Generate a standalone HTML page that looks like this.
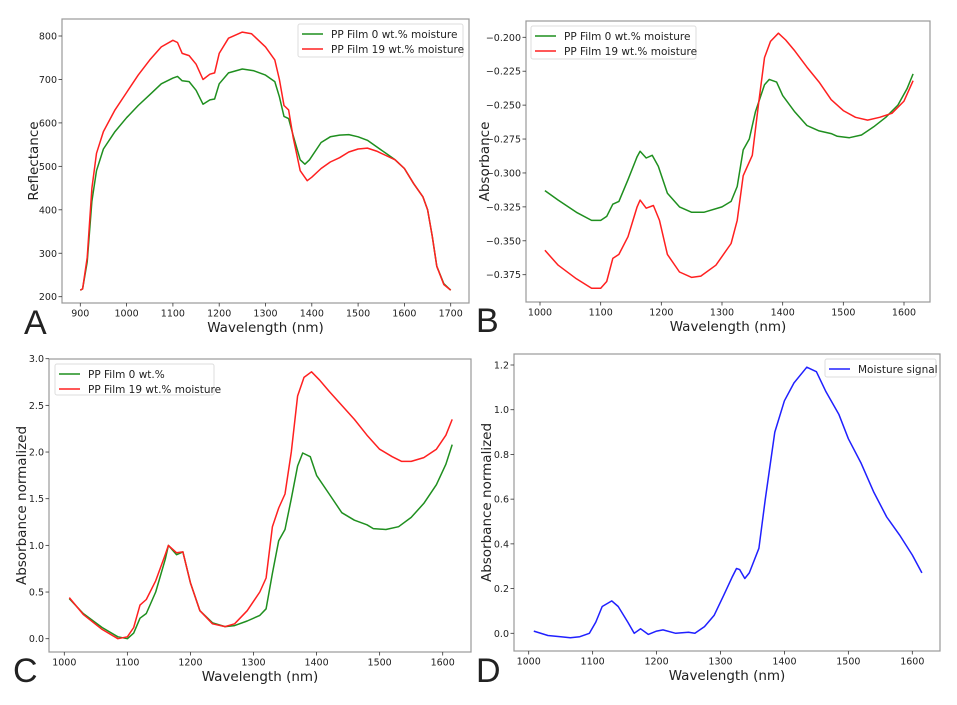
<!DOCTYPE html>
<html><head><meta charset="utf-8"><style>
body{margin:0;background:#fff;font-family:"Liberation Sans","DejaVu Sans",sans-serif;}
svg{display:block}
text{font-family:"DejaVu Sans","Liberation Sans",sans-serif;fill:#222}
</style></head><body>
<svg id="fig" width="957" height="705" viewBox="0 0 957 705"></svg>
<script>
// Panel A data (reflectance)
const aWl=[900,905,915,925,935,950,975,1000,1025,1050,1075,1100,1110,1120,1135,1150,1165,1180,1190,1200,1220,1250,1275,1300,1320,1330,1340,1350,1360,1375,1385,1395,1420,1440,1460,1480,1500,1520,1540,1560,1580,1600,1620,1640,1650,1660,1670,1685,1700];
const aGreen=[215,218,280,420,490,540,580,612,640,665,690,703,707,697,695,675,643,653,655,690,715,724,720,710,695,660,615,610,570,515,505,515,555,568,572,573,568,560,545,530,515,495,460,430,400,340,270,230,215];
const aRedWl=[900,905,915,925,935,950,975,1000,1025,1050,1075,1100,1110,1120,1135,1150,1165,1180,1190,1200,1220,1250,1270,1300,1320,1330,1340,1350,1360,1375,1390,1400,1420,1440,1460,1480,1500,1520,1540,1560,1580,1600,1620,1640,1650,1660,1670,1685,1700];
const aRed=[215,218,290,450,530,580,630,670,710,745,775,790,785,760,755,735,700,712,715,760,795,809,805,775,745,700,640,630,565,490,467,475,495,510,520,533,540,542,535,525,515,495,460,430,400,340,270,228,215];
const aXTicks=[900,1000,1100,1200,1300,1400,1500,1600,1700];
const aYTicks=[200,300,400,500,600,700,800];
// Panel B data (absorbance)
const bGreenWl=[1008,1030,1060,1085,1100,1110,1120,1130,1145,1160,1165,1175,1185,1195,1210,1230,1250,1270,1300,1315,1325,1335,1345,1355,1370,1378,1390,1400,1420,1440,1460,1480,1490,1510,1530,1550,1570,1590,1605,1615];
const bGreen=[-0.313,-0.320,-0.329,-0.335,-0.335,-0.332,-0.323,-0.321,-0.305,-0.288,-0.284,-0.289,-0.287,-0.295,-0.315,-0.325,-0.329,-0.329,-0.325,-0.321,-0.310,-0.283,-0.275,-0.255,-0.235,-0.231,-0.233,-0.243,-0.255,-0.265,-0.269,-0.271,-0.273,-0.274,-0.272,-0.266,-0.259,-0.250,-0.238,-0.227];
const bRedWl=[1008,1030,1060,1085,1100,1110,1120,1130,1145,1160,1165,1175,1187,1197,1210,1230,1250,1265,1290,1315,1325,1335,1350,1360,1370,1380,1393,1405,1420,1440,1460,1480,1500,1520,1540,1560,1580,1600,1615];
const bRed=[-0.357,-0.368,-0.378,-0.385,-0.385,-0.380,-0.363,-0.360,-0.347,-0.325,-0.320,-0.326,-0.324,-0.335,-0.360,-0.373,-0.377,-0.376,-0.368,-0.352,-0.335,-0.302,-0.287,-0.250,-0.215,-0.203,-0.197,-0.202,-0.210,-0.222,-0.233,-0.246,-0.254,-0.259,-0.261,-0.259,-0.256,-0.247,-0.232];
const bXTicks=[1000,1100,1200,1300,1400,1500,1600];
const bYTicks=[-0.375,-0.350,-0.325,-0.300,-0.275,-0.250,-0.225,-0.200];
// Panel C data (normalized)
const cGreenWl=[1008,1030,1060,1085,1100,1110,1120,1130,1145,1160,1165,1178,1188,1200,1215,1235,1255,1270,1290,1310,1320,1330,1340,1350,1360,1370,1378,1390,1400,1420,1440,1460,1480,1490,1510,1530,1550,1570,1590,1605,1615];
const cGreen=[0.43,0.27,0.12,0.02,0.0,0.06,0.22,0.27,0.5,0.85,1.0,0.9,0.93,0.6,0.3,0.17,0.13,0.14,0.19,0.25,0.32,0.7,1.05,1.17,1.5,1.85,1.99,1.95,1.75,1.55,1.35,1.27,1.22,1.18,1.17,1.2,1.3,1.45,1.65,1.87,2.08];
const cRedWl=[1008,1030,1060,1085,1100,1110,1120,1130,1145,1160,1165,1178,1188,1200,1215,1235,1255,1270,1290,1310,1320,1330,1340,1350,1360,1370,1380,1392,1405,1420,1440,1460,1480,1500,1520,1535,1550,1570,1590,1605,1615];
const cRed=[0.44,0.26,0.1,0.0,0.02,0.12,0.36,0.42,0.62,0.9,1.0,0.92,0.93,0.6,0.3,0.16,0.13,0.16,0.3,0.5,0.65,1.2,1.4,1.55,2.0,2.6,2.8,2.86,2.77,2.65,2.5,2.35,2.18,2.03,1.95,1.9,1.9,1.94,2.03,2.18,2.35];
const cXTicks=[1000,1100,1200,1300,1400,1500,1600];
const cYTicks=[0.0,0.5,1.0,1.5,2.0,2.5,3.0];
// Panel D data (moisture signal)
const dWl=[1008,1030,1050,1065,1080,1095,1105,1115,1130,1140,1155,1165,1175,1187,1200,1210,1230,1250,1260,1275,1290,1305,1318,1325,1330,1338,1345,1360,1370,1385,1400,1415,1435,1450,1465,1485,1500,1520,1540,1560,1580,1600,1615];
const dBlue=[0.01,-0.01,-0.015,-0.02,-0.015,0.0,0.05,0.12,0.145,0.12,0.05,0.0,0.02,-0.005,0.01,0.015,0.0,0.005,0.0,0.03,0.08,0.17,0.25,0.29,0.285,0.245,0.27,0.38,0.6,0.9,1.04,1.12,1.19,1.17,1.08,0.98,0.87,0.76,0.63,0.52,0.44,0.35,0.27];
const dXTicks=[1000,1100,1200,1300,1400,1500,1600];
const dYTicks=[0.0,0.2,0.4,0.6,0.8,1.0,1.2];

const NS="http://www.w3.org/2000/svg";
const svg=document.getElementById('fig');
function mk(tag,attrs,parent){const e=document.createElementNS(NS,tag);for(const k in attrs)e.setAttribute(k,attrs[k]);(parent||svg).appendChild(e);return e;}

function panel(o){
  const g=mk('g',{});
  
  
  const sx=v=>o.x0px+(v-o.x0v)*(o.x1px-o.x0px)/(o.x1v-o.x0v);
  const sy=v=>o.y0px+(v-o.y0v)*(o.y1px-o.y0px)/(o.y1v-o.y0v);
  const fr=mk('rect',{x:o.L,y:o.T,width:o.R-o.L,height:o.B-o.T,fill:'#fff',stroke:'#999','stroke-width':1.2},g);
  
  
  o.xt.forEach(t=>{const x=sx(t);
    mk('line',{x1:x,x2:x,y1:o.B,y2:o.B+3.5,stroke:'#333','stroke-width':0.8},g);
    const tx=mk('text',{x:x,y:o.B+13.5,'font-size':9.5,'text-anchor':'middle'},g);tx.textContent=t;
    
    });
  o.yt.forEach(t=>{const y=sy(t);
    mk('line',{x1:o.L-3.5,x2:o.L,y1:y,y2:y,stroke:'#333','stroke-width':0.8},g);
    const tx=mk('text',{x:o.L-5,y:y+3.5,'font-size':9.5,'text-anchor':'end'},g);tx.textContent=o.fmt(t);
    
    });
  const xl=mk('text',{x:(o.L+o.R)/2,y:o.B+29,'font-size':13.5,'text-anchor':'middle'},g);xl.textContent='Wavelength (nm)';
  
  
  const yl=mk('text',{x:o.ylx,y:(o.T+o.B)/2,'font-size':13.5,'text-anchor':'middle',transform:`rotate(-90 ${o.ylx} ${(o.T+o.B)/2})`},g);yl.textContent=o.ylabel;
  
  
  o.series.forEach(s=>{
    const d=s.x.map((v,i)=>(i?'L':'M')+sx(v).toFixed(1)+','+sy(s.y[i]).toFixed(1)).join(' ');
    const p=mk('path',{d:d,fill:'none',stroke:s.c,'stroke-width':1.5,'stroke-linejoin':'round'},g);
    
    });
  const lg=mk('g',{},g);
  
  
  const lb=o.leg;
  mk('rect',{x:lb.x,y:lb.y,width:lb.w,height:lb.h,rx:2,fill:'#fff',stroke:'#ddd','stroke-width':1},lg);
  o.series.forEach((s,i)=>{const yy=lb.y+10+i*15;
    mk('line',{x1:lb.x+4,x2:lb.x+25,y1:yy,y2:yy,stroke:s.c,'stroke-width':1.5},lg);
    const t=mk('text',{x:lb.x+33,y:yy+4,'font-size':10.5},lg);t.textContent=s.label;
    
    });
  const pl=mk('text',{x:o.letter[0],y:o.letter[1],'font-size':34,style:'font-family:"Liberation Sans",sans-serif'},g);pl.textContent=o.letterT;
  
  
}
const f0=t=>String(t), f3=t=>(t<0?'\u2212':'')+Math.abs(t).toFixed(3), f1=t=>t.toFixed(1);
panel({name:'panel-a-reflectance',L:62,R:469,T:19,B:303,x0v:900,x1v:1700,x0px:80.3,x1px:450.7,y0v:800,y1v:200,y0px:36,y1px:296.7,
  xt:aXTicks,yt:aYTicks,fmt:f0,ylabel:'Reflectance',ylx:38,
  series:[{n:'line-0-moisture',c:'#1f8f1f',x:aWl,y:aGreen,label:'PP Film 0 wt.% moisture'},{n:'line-19-moisture',c:'#ff2020',x:aRedWl,y:aRed,label:'PP Film 19 wt.% moisture'}],
  leg:{x:298,y:24,w:165,h:33},letter:[24,334],letterT:'A'});
panel({name:'panel-b-absorbance',L:526,R:930,T:21,B:302,x0v:1000,x1v:1600,x0px:540,x1px:904,y0v:-0.2,y1v:-0.375,y0px:37.3,y1px:274.7,
  xt:bXTicks,yt:bYTicks,fmt:f3,ylabel:'Absorbance',ylx:489,
  series:[{n:'line-0-moisture',c:'#1f8f1f',x:bGreenWl,y:bGreen,label:'PP Film 0 wt.% moisture'},{n:'line-19-moisture',c:'#ff2020',x:bRedWl,y:bRed,label:'PP Film 19 wt.% moisture'}],
  leg:{x:531,y:26,w:165,h:33},letter:[476,332],letterT:'B'});
panel({name:'panel-c-normalized',L:49,R:471,T:359,B:652,x0v:1000,x1v:1600,x0px:64.3,x1px:442.7,y0v:3.0,y1v:0.0,y0px:358.7,y1px:638.7,
  xt:cXTicks,yt:cYTicks,fmt:f1,ylabel:'Absorbance normalized',ylx:26,
  series:[{n:'line-0',c:'#1f8f1f',x:cGreenWl,y:cGreen,label:'PP Film 0 wt.%'},{n:'line-19-moisture',c:'#ff2020',x:cRedWl,y:cRed,label:'PP Film 19 wt.% moisture'}],
  leg:{x:55,y:364,w:159,h:31},letter:[13,682],letterT:'C'});
panel({name:'panel-d-moisture-signal',L:514,R:940,T:354,B:651,x0v:1000,x1v:1600,x0px:528.7,x1px:912.3,y0v:1.2,y1v:0.0,y0px:365,y1px:633.3,
  xt:dXTicks,yt:dYTicks,fmt:f1,ylabel:'Absorbance normalized',ylx:491,
  series:[{n:'line-moisture-signal',c:'#2020ff',x:dWl,y:dBlue,label:'Moisture signal'}],
  leg:{x:825,y:359,w:111,h:18},letter:[476,682],letterT:'D'});
</script>
</body></html>
